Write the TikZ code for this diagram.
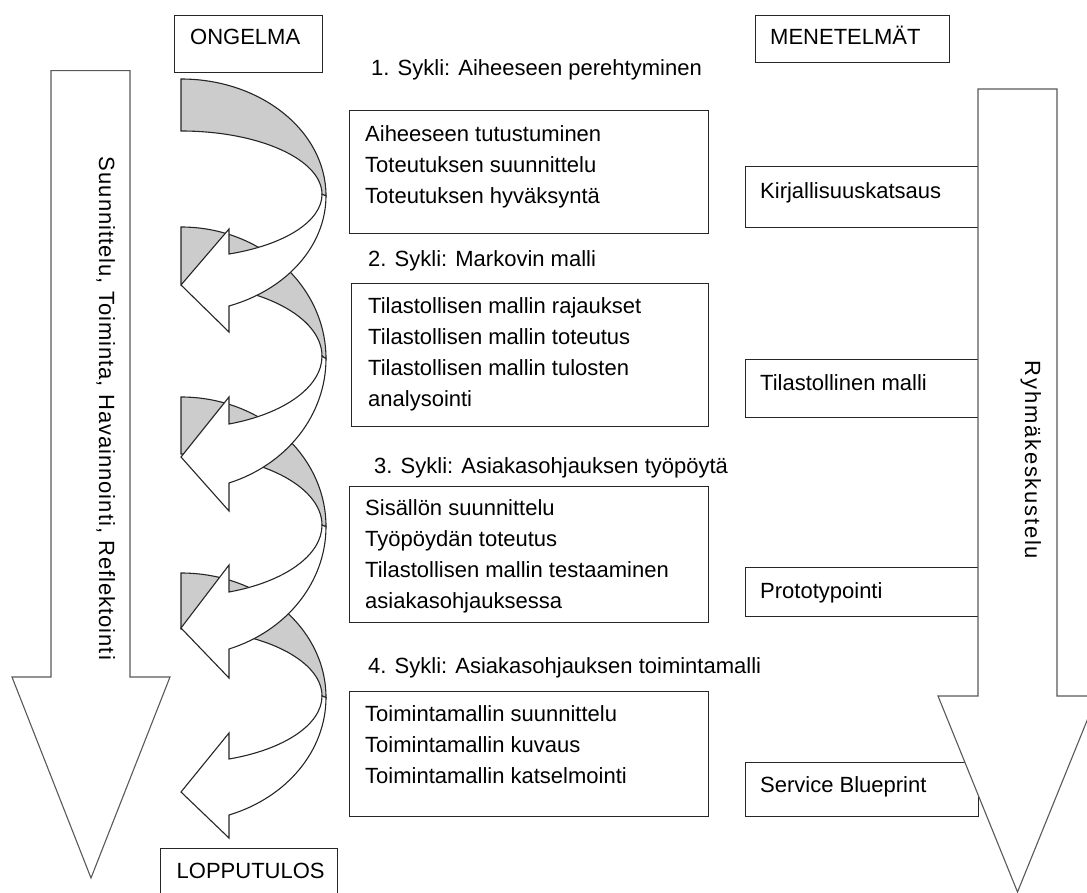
\documentclass[tikz,border=0pt]{standalone}
\usepackage{fontspec}
\setmainfont{Liberation Sans}

% One curved cycle arrow: shaded back ribbon plus white front ribbon with head.
% #1 tail top, #2 tail thickness, #3 outer edge at head base, #4 inner edge at head base,
% #5 head upper corner, #6 tip, #7 head lower corner (all y values)
\newcommand\cyclearrow[7]{%
  \pgfmathsetmacro\cycbo{(#3-#1)/1.9436}%
  \pgfmathsetmacro\cycco{#1+\cycbo}%
  \pgfmathsetmacro\cycbi{(#4-#1-#2)/1.9403}%
  \pgfmathsetmacro\cycci{#1+#2+\cycbi}%
  \path[backband] (181,#1)
    arc[start angle=-90, end angle=0, x radius=145, y radius=\cycbo]
    -- (322,\cycci)
    arc[start angle=0, end angle=-90, x radius=141, y radius=\cycbi]
    -- cycle;
  \path[frontband] (326,\cycco)
    arc[start angle=0, end angle=70.67, x radius=145, y radius=\cycbo]
    -- (229,#7) -- (181,#6) -- (229,#5) -- (229,#4)
    arc[start angle=70.1, end angle=0, x radius=141, y radius=\cycbi]
    -- cycle;
}

\begin{document}
\begin{tikzpicture}[x=1pt, y=1pt, yscale=-1, line join=miter,
  box/.style={draw=black!85, line width=1.2pt, fill=white, inner sep=0pt, anchor=north west},
  txt/.style={font=\fontsize{22}{31}\selectfont, inner sep=0pt, anchor=base west, align=left, text=black},
  sidetxt/.style={font=\fontsize{22}{31}\selectfont, inner sep=0pt, anchor=base, rotate=-90, text=black},
  bigarrow/.style={draw=black!65, line width=1.1pt, fill=white},
  backband/.style={draw=black!85, line width=1.1pt, fill=black!20},
  frontband/.style={draw=black!85, line width=1.1pt, fill=white}]
\useasboundingbox (0,0) rectangle (1087,893);
\clip (0,0) rectangle (1087,893);

% process arrow on the left
\path[bigarrow] (51,70.7) -- (130,70.7) -- (130,677) -- (170,677) -- (91,878)
  -- (12,677) -- (51,677) -- cycle;
\node[sidetxt] (process) at (99,408.5)
  {\addfontfeatures{LetterSpace=4.5}Suunnittelu, Toiminta, Havainnointi, Reflektointi};

% headers
\node[box, minimum width=148, minimum height=57] (ongelma) at (174,15) {};
\node[txt] (ongelmatxt) at (190,45) {ONGELMA};
\node[box, minimum width=194, minimum height=47] (menetelmat) at (755,15) {};
\node[txt] (menetelmattxt) at (770,45) {MENETELMÄT};
\node[box, minimum width=177, minimum height=60] (lopputulos) at (160,848) {};
\node[txt] (lopputulostxt) at (176.5,878.3) {LOPPUTULOS};

% cycle arrows, lowest first so each one lies over the next
\cyclearrow{573}{56}{815}{759}{733}{792}{838}
\cyclearrow{397}{57}{649}{592}{565}{628}{678}
\cyclearrow{227}{57}{483}{424}{397}{457}{511}
\cyclearrow{79}{52}{306}{254}{229}{285}{332}

% cycle titles
\node[txt] (sykli1) at (371,75.5) {1. Sykli: Aiheeseen perehtyminen};
\node[txt] (sykli2) at (368,266.7) {2. Sykli: Markovin malli};
\node[txt] (sykli3) at (374,473.3) {3. Sykli: Asiakasohjauksen työpöytä};
\node[txt] (sykli4) at (368,673.3) {4. Sykli: Asiakasohjauksen toimintamalli};

% task boxes (text nodes are placed by the baseline of their last line)
\node[box, minimum width=359, minimum height=123] (tasks1) at (349,110) {};
\node[txt] (tasks1txt) at (365,203.7) {Aiheeseen tutustuminen\\Toteutuksen suunnittelu\\Toteutuksen hyväksyntä};
\node[box, minimum width=357, minimum height=143] (tasks2) at (351,283) {};
\node[txt] (tasks2txt) at (368,406.8) {Tilastollisen mallin rajaukset\\Tilastollisen mallin toteutus\\Tilastollisen mallin tulosten\\analysointi};
\node[box, minimum width=359, minimum height=136] (tasks3) at (349,486) {};
\node[txt] (tasks3txt) at (365,608.3) {Sisällön suunnittelu\\Työpöydän toteutus\\Tilastollisen mallin testaaminen\\asiakasohjauksessa};
\node[box, minimum width=359, minimum height=125] (tasks4) at (349,691) {};
\node[txt] (tasks4txt) at (365,783.5) {Toimintamallin suunnittelu\\Toimintamallin kuvaus\\Toimintamallin katselmointi};

% method boxes
\node[box, minimum width=233, minimum height=61] (kirj) at (745,166) {};
\node[txt] (kirjtxt) at (760,198.3) {Kirjallisuuskatsaus};
\node[box, minimum width=233, minimum height=58] (tilasto) at (745,359) {};
\node[txt] (tilastotxt) at (760,390) {Tilastollinen malli};
\node[box, minimum width=233, minimum height=49] (proto) at (745,567) {};
\node[txt] (prototxt) at (760,598) {Prototypointi};
\node[box, minimum width=233, minimum height=54] (service) at (745,762) {};
\node[txt] (servicetxt) at (760,792) {Service Blueprint};

% group discussion arrow on the right
\path[bigarrow] (978,89) -- (1057,89) -- (1057,696) -- (1097,696) -- (1017.5,892)
  -- (938,696) -- (978,696) -- cycle;
\node[sidetxt] (ryhma) at (1025,460)
  {\addfontfeatures{LetterSpace=8}Ryhmäkeskustelu};
\end{tikzpicture}
\end{document}
